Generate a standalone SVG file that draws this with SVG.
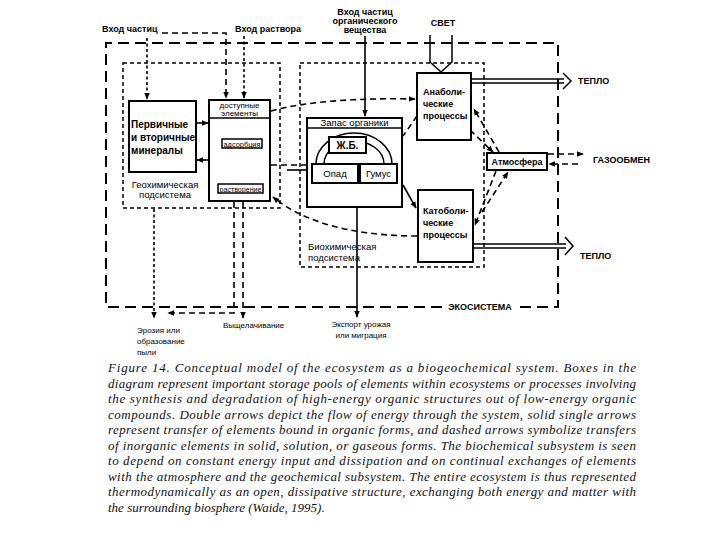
<svg xmlns="http://www.w3.org/2000/svg" width="720" height="540" viewBox="0 0 720 540">
<style>
.box{fill:#fff;stroke:#000;stroke-width:2}
.sbox{fill:#fff;stroke:#000;stroke-width:1.5}
.eco{fill:none;stroke:#000;stroke-width:2;stroke-dasharray:11 6}
.sub{fill:none;stroke:#000;stroke-width:1.5;stroke-dasharray:4 3}
.dash{fill:none;stroke:#000;stroke-width:1.6;stroke-dasharray:6 4}
.dot{fill:none;stroke:#000;stroke-width:1.6;stroke-dasharray:3 2.5}
.sol{fill:none;stroke:#000;stroke-width:1.6}
.dbl{fill:none;stroke:#000;stroke-width:1.5}
.b{font-family:"Liberation Sans",Arial,sans-serif;font-weight:bold;font-size:9px;fill:#000}
.bl{font-family:"Liberation Sans",Arial,sans-serif;font-weight:bold;font-size:10px;fill:#000}
.n{font-family:"Liberation Sans",Arial,sans-serif;font-size:8px;fill:#000}
.nm{font-family:"Liberation Sans",Arial,sans-serif;font-size:9.5px;fill:#000}
.cap{font-family:"Liberation Serif","Times New Roman",serif;font-style:italic;font-size:13px;fill:#111}
</style>
<defs>
<marker id="ah" viewBox="0 0 10 10" refX="9" refY="5" markerWidth="7" markerHeight="7" markerUnits="userSpaceOnUse" orient="auto"><path d="M0,1 L10,5 L0,9 z" fill="#000"/></marker>
</defs>

<g id="boundaries">
<path class="eco" d="M442,307 H106 V43 H558 V307 H518"/>
<rect class="sub" x="123" y="63" width="157" height="145"/>
<rect class="sub" x="300" y="63" width="184" height="204"/>
</g>

<g id="connectors">
<path class="dot" d="M147,38 V99" marker-end="url(#ah)"/>
<path class="dash" d="M162,33 H226 V98" marker-end="url(#ah)"/>
<path class="dot" d="M244,36 V98" marker-end="url(#ah)"/>
<path class="sol" d="M365,36 V116" marker-end="url(#ah)"/>
<path class="dbl" d="M430,35 V62 L441,72 L452,62 V35"/>
<path class="sol" d="M196,123 H208" marker-end="url(#ah)"/>
<path class="sol" d="M209,160 H197" marker-end="url(#ah)"/>
<path class="dash" d="M232,148 V183" marker-end="url(#ah)"/>
<path class="dash" d="M255,183 V148" marker-end="url(#ah)"/>
<path class="dash" d="M271,111 C310,100 370,98 415,99" marker-end="url(#ah)"/>
<path class="dash" d="M417,236 C370,236 310,228 273,197" marker-end="url(#ah)"/>
<path class="dash" d="M271,165 H306"/>
<path class="sol" d="M287,170 H306"/>
<path class="dash" d="M417,116 L403,136"/>
<path class="sol" d="M403,185 L416,208" marker-end="url(#ah)"/>
<path class="dash" d="M499,152 L474,109" marker-end="url(#ah)"/>
<path class="dash" d="M470,130 L493,152" marker-end="url(#ah)"/>
<path class="dash" d="M496,171 L475,225" marker-end="url(#ah)"/>
<path class="dash" d="M482,212 L508,172" marker-end="url(#ah)"/>
<path class="dash" d="M548,154 H583" marker-end="url(#ah)"/>
<path class="dash" d="M578,164 H549" marker-end="url(#ah)"/>
<path class="dbl" d="M471,79 H564 M471,83 H564 M563,73 L571,81 L563,89"/>
<path class="dbl" d="M473,244 H566 M473,248 H566 M565,237 L573,246 L565,255"/>
<path class="dot" d="M154,209 V318" marker-end="url(#ah)"/>
<path class="dash" d="M234,202 V313 H168" marker-end="url(#ah)"/>
<path class="dash" d="M243,202 V318" marker-end="url(#ah)"/>
<path class="sol" d="M357,208 V317" marker-end="url(#ah)"/>
</g>

<g id="minerals">
<rect class="box" x="129" y="101" width="67" height="71"/>
<text class="bl" x="131" y="128">Первичные</text>
<text class="bl" x="131" y="141">и вторичные</text>
<text class="bl" x="131" y="154">минералы</text>
</g>
<g id="geochem-label">
<text class="nm" x="165" y="188" text-anchor="middle">Геохимическая</text>
<text class="nm" x="165" y="198" text-anchor="middle">подсистема</text>
</g>

<g id="available">
<rect class="box" x="209" y="100" width="61" height="101"/>
<line x1="209" y1="118" x2="270" y2="118" stroke="#000" stroke-width="1.5"/>
<text class="n" x="239.5" y="108" text-anchor="middle">доступные</text>
<text class="n" x="239.5" y="116" text-anchor="middle">элементы</text>
</g>
<g id="adsorption">
<rect class="sbox" x="222" y="139" width="40" height="9"/>
<text class="n" x="242" y="146.5" text-anchor="middle" font-size="7" textLength="37" lengthAdjust="spacingAndGlyphs">адсорбция</text>
</g>
<g id="dissolution">
<rect class="sbox" x="218" y="184" width="45" height="9"/>
<text class="n" x="240.5" y="191.5" text-anchor="middle" font-size="7" textLength="42" lengthAdjust="spacingAndGlyphs">растворение</text>
</g>

<g id="organic-store">
<rect class="box" x="307" y="118" width="95" height="89"/>
<line x1="307" y1="128" x2="402" y2="128" stroke="#000" stroke-width="1.5"/>
<text class="nm" x="354.5" y="126" text-anchor="middle" font-size="10.5">Запас органики</text>
<path class="dbl" d="M316,164 A38,31 0 0 1 392,164 M324,164 A30,23 0 0 1 384,164" stroke-width="2"/>
<line x1="358" y1="174" x2="360" y2="174" stroke="#000" stroke-width="1.5"/>
</g>
<g id="zhb">
<rect class="box" x="329" y="137" width="37" height="16"/>
<text class="bl" x="347.5" y="149" text-anchor="middle">Ж.Б.</text>
</g>
<g id="opad">
<rect class="box" x="312" y="164" width="46" height="19"/>
<text class="nm" x="335" y="177" text-anchor="middle">Опад</text>
</g>
<g id="gumus">
<rect class="box" x="360" y="164" width="37" height="19"/>
<text class="nm" x="378.5" y="177" text-anchor="middle">Гумус</text>
</g>
<g id="biochem-label">
<text class="nm" x="308" y="250">Биохимическая</text>
<text class="nm" x="308" y="261">подсистема</text>
</g>

<g id="anabolic">
<rect class="box" x="417" y="73" width="54" height="67"/>
<text class="b" x="423" y="95">Анаболи-</text>
<text class="b" x="423" y="107">ческие</text>
<text class="b" x="423" y="119">процессы</text>
</g>
<g id="catabolic">
<rect class="box" x="418" y="190" width="55" height="72"/>
<text class="b" x="423" y="214">Катоболи-</text>
<text class="b" x="423" y="226">ческие</text>
<text class="b" x="423" y="238">процессы</text>
</g>
<g id="atmosphere">
<rect class="box" x="487" y="153" width="60" height="17"/>
<text class="b" x="517" y="165" text-anchor="middle">Атмосфера</text>
</g>

<g id="labels">
<text class="b" x="102" y="32">Вход частиц</text>
<text class="b" x="235" y="32">Вход раствора</text>
<text class="b" x="365" y="15" text-anchor="middle">Вход частиц</text>
<text class="b" x="365" y="24" text-anchor="middle">органического</text>
<text class="b" x="365" y="33" text-anchor="middle">вещества</text>
<text class="b" x="443" y="26" text-anchor="middle">СВЕТ</text>
<text class="b" x="578" y="84">ТЕПЛО</text>
<text class="b" x="593" y="163">ГАЗООБМЕН</text>
<text class="b" x="580" y="259">ТЕПЛО</text>
<text class="b" x="480" y="310" text-anchor="middle">ЭКОСИСТЕМА</text>
<text class="n" x="137" y="333" font-size="9">Эрозия или</text>
<text class="n" x="137" y="344" font-size="9">образование</text>
<text class="n" x="137" y="355" font-size="9">пыли</text>
<text class="n" x="223" y="328" font-size="9">Выщелачивание</text>
<text class="n" x="361" y="327" font-size="9" text-anchor="middle">Экспорт урожая</text>
<text class="n" x="361" y="338" font-size="9" text-anchor="middle">или миграция</text>
</g>

<g id="caption">
<text class="cap" x="108" y="372" textLength="528" lengthAdjust="spacing">Figure 14. Conceptual model of the ecosystem as a biogeochemical system. Boxes in the</text>
<text class="cap" x="108" y="387.5" textLength="528" lengthAdjust="spacing">diagram represent important storage pools of elements within ecosystems or processes involving</text>
<text class="cap" x="108" y="403" textLength="528" lengthAdjust="spacing">the synthesis and degradation of high-energy organic structures out of low-energy organic</text>
<text class="cap" x="108" y="418.5" textLength="528" lengthAdjust="spacing">compounds. Double arrows depict the flow of energy through the system, solid single arrows</text>
<text class="cap" x="108" y="434" textLength="528" lengthAdjust="spacing">represent transfer of elements bound in organic forms, and dashed arrows symbolize transfers</text>
<text class="cap" x="108" y="449.5" textLength="528" lengthAdjust="spacing">of inorganic elements in solid, solution, or gaseous forms. The biochemical subsystem is seen</text>
<text class="cap" x="108" y="465" textLength="528" lengthAdjust="spacing">to depend on constant energy input and dissipation and on continual exchanges of elements</text>
<text class="cap" x="108" y="480.5" textLength="528" lengthAdjust="spacing">with the atmosphere and the geochemical subsystem. The entire ecosystem is thus represented</text>
<text class="cap" x="108" y="496" textLength="528" lengthAdjust="spacing">thermodynamically as an open, dissipative structure, exchanging both energy and matter with</text>
<text class="cap" x="108" y="511.5">the surrounding biosphere (Waide, 1995).</text>
</g>
</svg>
